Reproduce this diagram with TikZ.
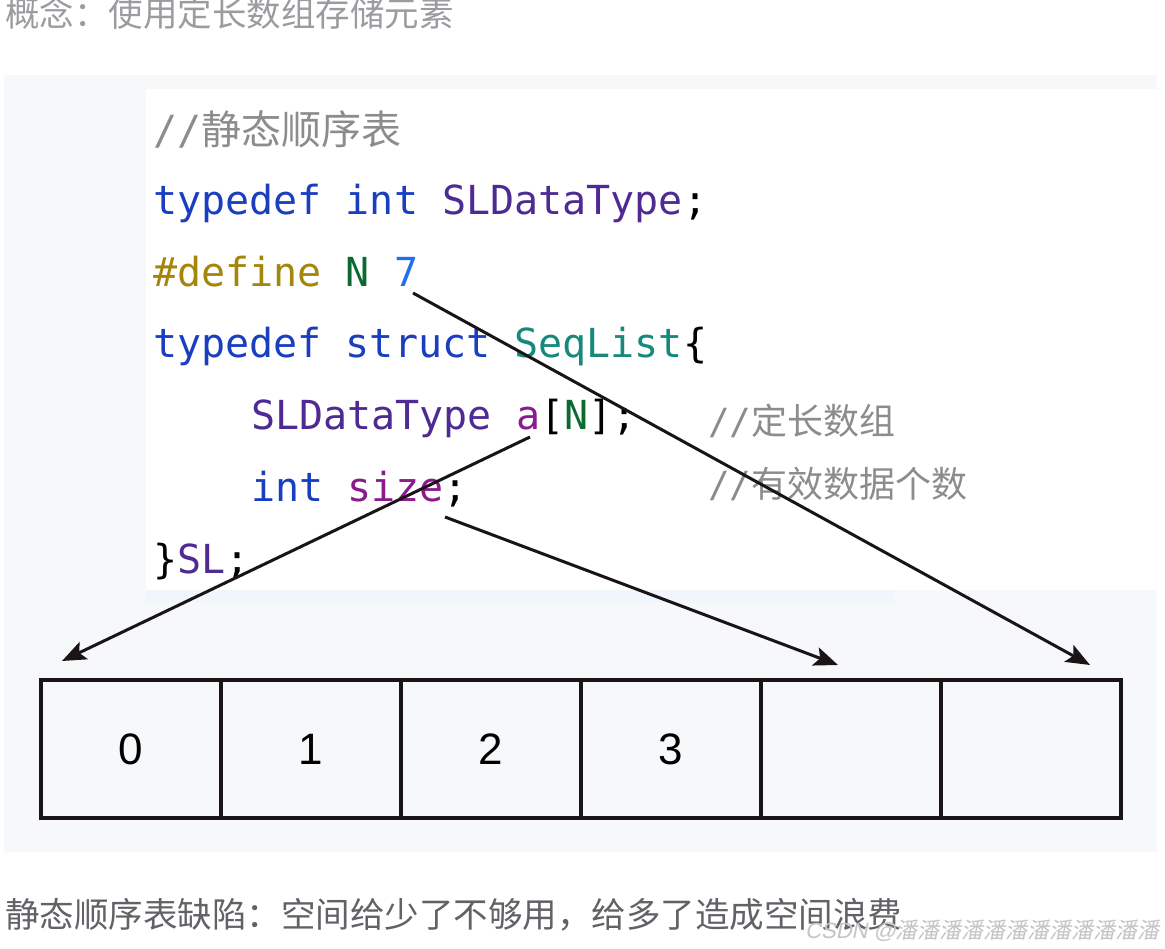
\documentclass[tikz,border=0pt]{standalone}
\usepackage{fontspec}
\setmainfont{Liberation Sans}
\setmonofont{DejaVu Sans Mono}
\newfontfamily\cjk{Noto Sans CJK SC}
\newfontfamily\wmfont[FakeSlant=0.2]{Liberation Sans}
\newfontfamily\wmcjk[FakeSlant=0.2]{Noto Sans CJK SC}
\usetikzlibrary{arrows.meta}
\definecolor{kw}{HTML}{1A3EC0}
\definecolor{typ}{HTML}{4E2A92}
\definecolor{pre}{HTML}{A4870A}
\definecolor{macro}{HTML}{0B6B2F}
\definecolor{num}{HTML}{1F6FF0}
\definecolor{sname}{HTML}{14897C}
\definecolor{fld}{HTML}{8B1A8E}
\definecolor{cmt}{HTML}{8C8C8C}
\definecolor{panel}{HTML}{F7F8FA}
\definecolor{strip}{HTML}{F1F5FC}
\definecolor{toptxt}{HTML}{9A9CA0}
\definecolor{bottxt}{HTML}{606266}
\definecolor{wmark}{HTML}{C4C4C4}
\definecolor{ink}{HTML}{1A1416}
\begin{document}
\begin{tikzpicture}[x=1pt,y=-1pt,
  codeline/.style={anchor=base west,inner sep=0pt,font=\fontsize{40}{40}\selectfont\ttfamily},
  sidecmt/.style={anchor=base west,inner sep=0pt,text=cmt,font=\fontsize{36}{36}\selectfont\ttfamily},
  prose/.style={anchor=base west,inner sep=0pt,font=\fontsize{34.5}{34.5}\selectfont\cjk},
  cell/.style={draw=ink,line width=3.4pt,minimum width=180pt,minimum height=138pt,inner sep=0pt,font=\fontsize{44}{44}\selectfont},
  arr/.style={draw=ink,line width=3pt,-{Stealth[length=24pt,width=19pt,inset=5pt]}}]
\fill[white] (0,0) rectangle (1165,949);
\useasboundingbox (0,0) rectangle (1165,949);
% panels
\fill[panel] (4,75) rectangle (1157,852);
\fill[white] (146,89) rectangle (1157,590);
\fill[strip] (146,590) rectangle (893,603);
% prose
\node[prose,text=toptxt] (title) at (5,27) {概念：使用定长数组存储元素};
\node[prose,text=bottxt] (defect) at (5,927) {静态顺序表缺陷：空间给少了不够用，给多了造成空间浪费};
\node[anchor=base west,inner sep=0pt,text=wmark] (wm) at (805,938)
  {\fontsize{22}{22}\selectfont\wmfont CSDN @\wmcjk 潘潘潘潘潘潘潘潘潘潘潘潘};
% code
\node[codeline,text=cmt] (l0) at (153,145) {//{\cjk 静态顺序表}};
\node[codeline] (l1) at (153,215) {\textcolor{kw}{typedef int} \textcolor{typ}{SLDataType};};
\node[codeline] (l2) at (153,287) {\textcolor{pre}{\#define} \textcolor{macro}{N} \textcolor{num}{7}};
\node[codeline] (l3) at (153,358) {\textcolor{kw}{typedef struct} \textcolor{sname}{SeqList}\{};
\node[codeline] (l4) at (251,430) {\textcolor{typ}{SLDataType} \textcolor{fld}{a}[\textcolor{macro}{N}];};
\node[codeline] (l5) at (251,501) {\textcolor{kw}{int} \textcolor{fld}{size};};
\node[codeline] (l6) at (153,573) {\}\textcolor{typ}{SL};};
\node[sidecmt] (c4) at (708,435) {//{\cjk 定长数组}};
\node[sidecmt] (c5) at (708,497) {//{\cjk 有效数据个数}};
% cells
\node[cell] (k0) at (131,749) {\raisebox{-4pt}{0}};
\node[cell] (k1) at (311,749) {\raisebox{-4pt}{1}};
\node[cell] (k2) at (491,749) {\raisebox{-4pt}{2}};
\node[cell] (k3) at (671,749) {\raisebox{-4pt}{3}};
\node[cell] (k4) at (851,749) {};
\node[cell] (k5) at (1031,749) {};
% arrow ends
\coordinate (fromN) at (413,293);
\coordinate (fromA) at (530,437);
\coordinate (fromSize) at (445,517);
\coordinate (toFirst) at (62,661);
\coordinate (toSize) at (838,665);
\coordinate (toLast) at (1090,665);
\draw[arr] (fromN) -- (toLast);
\draw[arr] (fromA) -- (toFirst);
\draw[arr] (fromSize) -- (toSize);
\end{tikzpicture}
\end{document}
